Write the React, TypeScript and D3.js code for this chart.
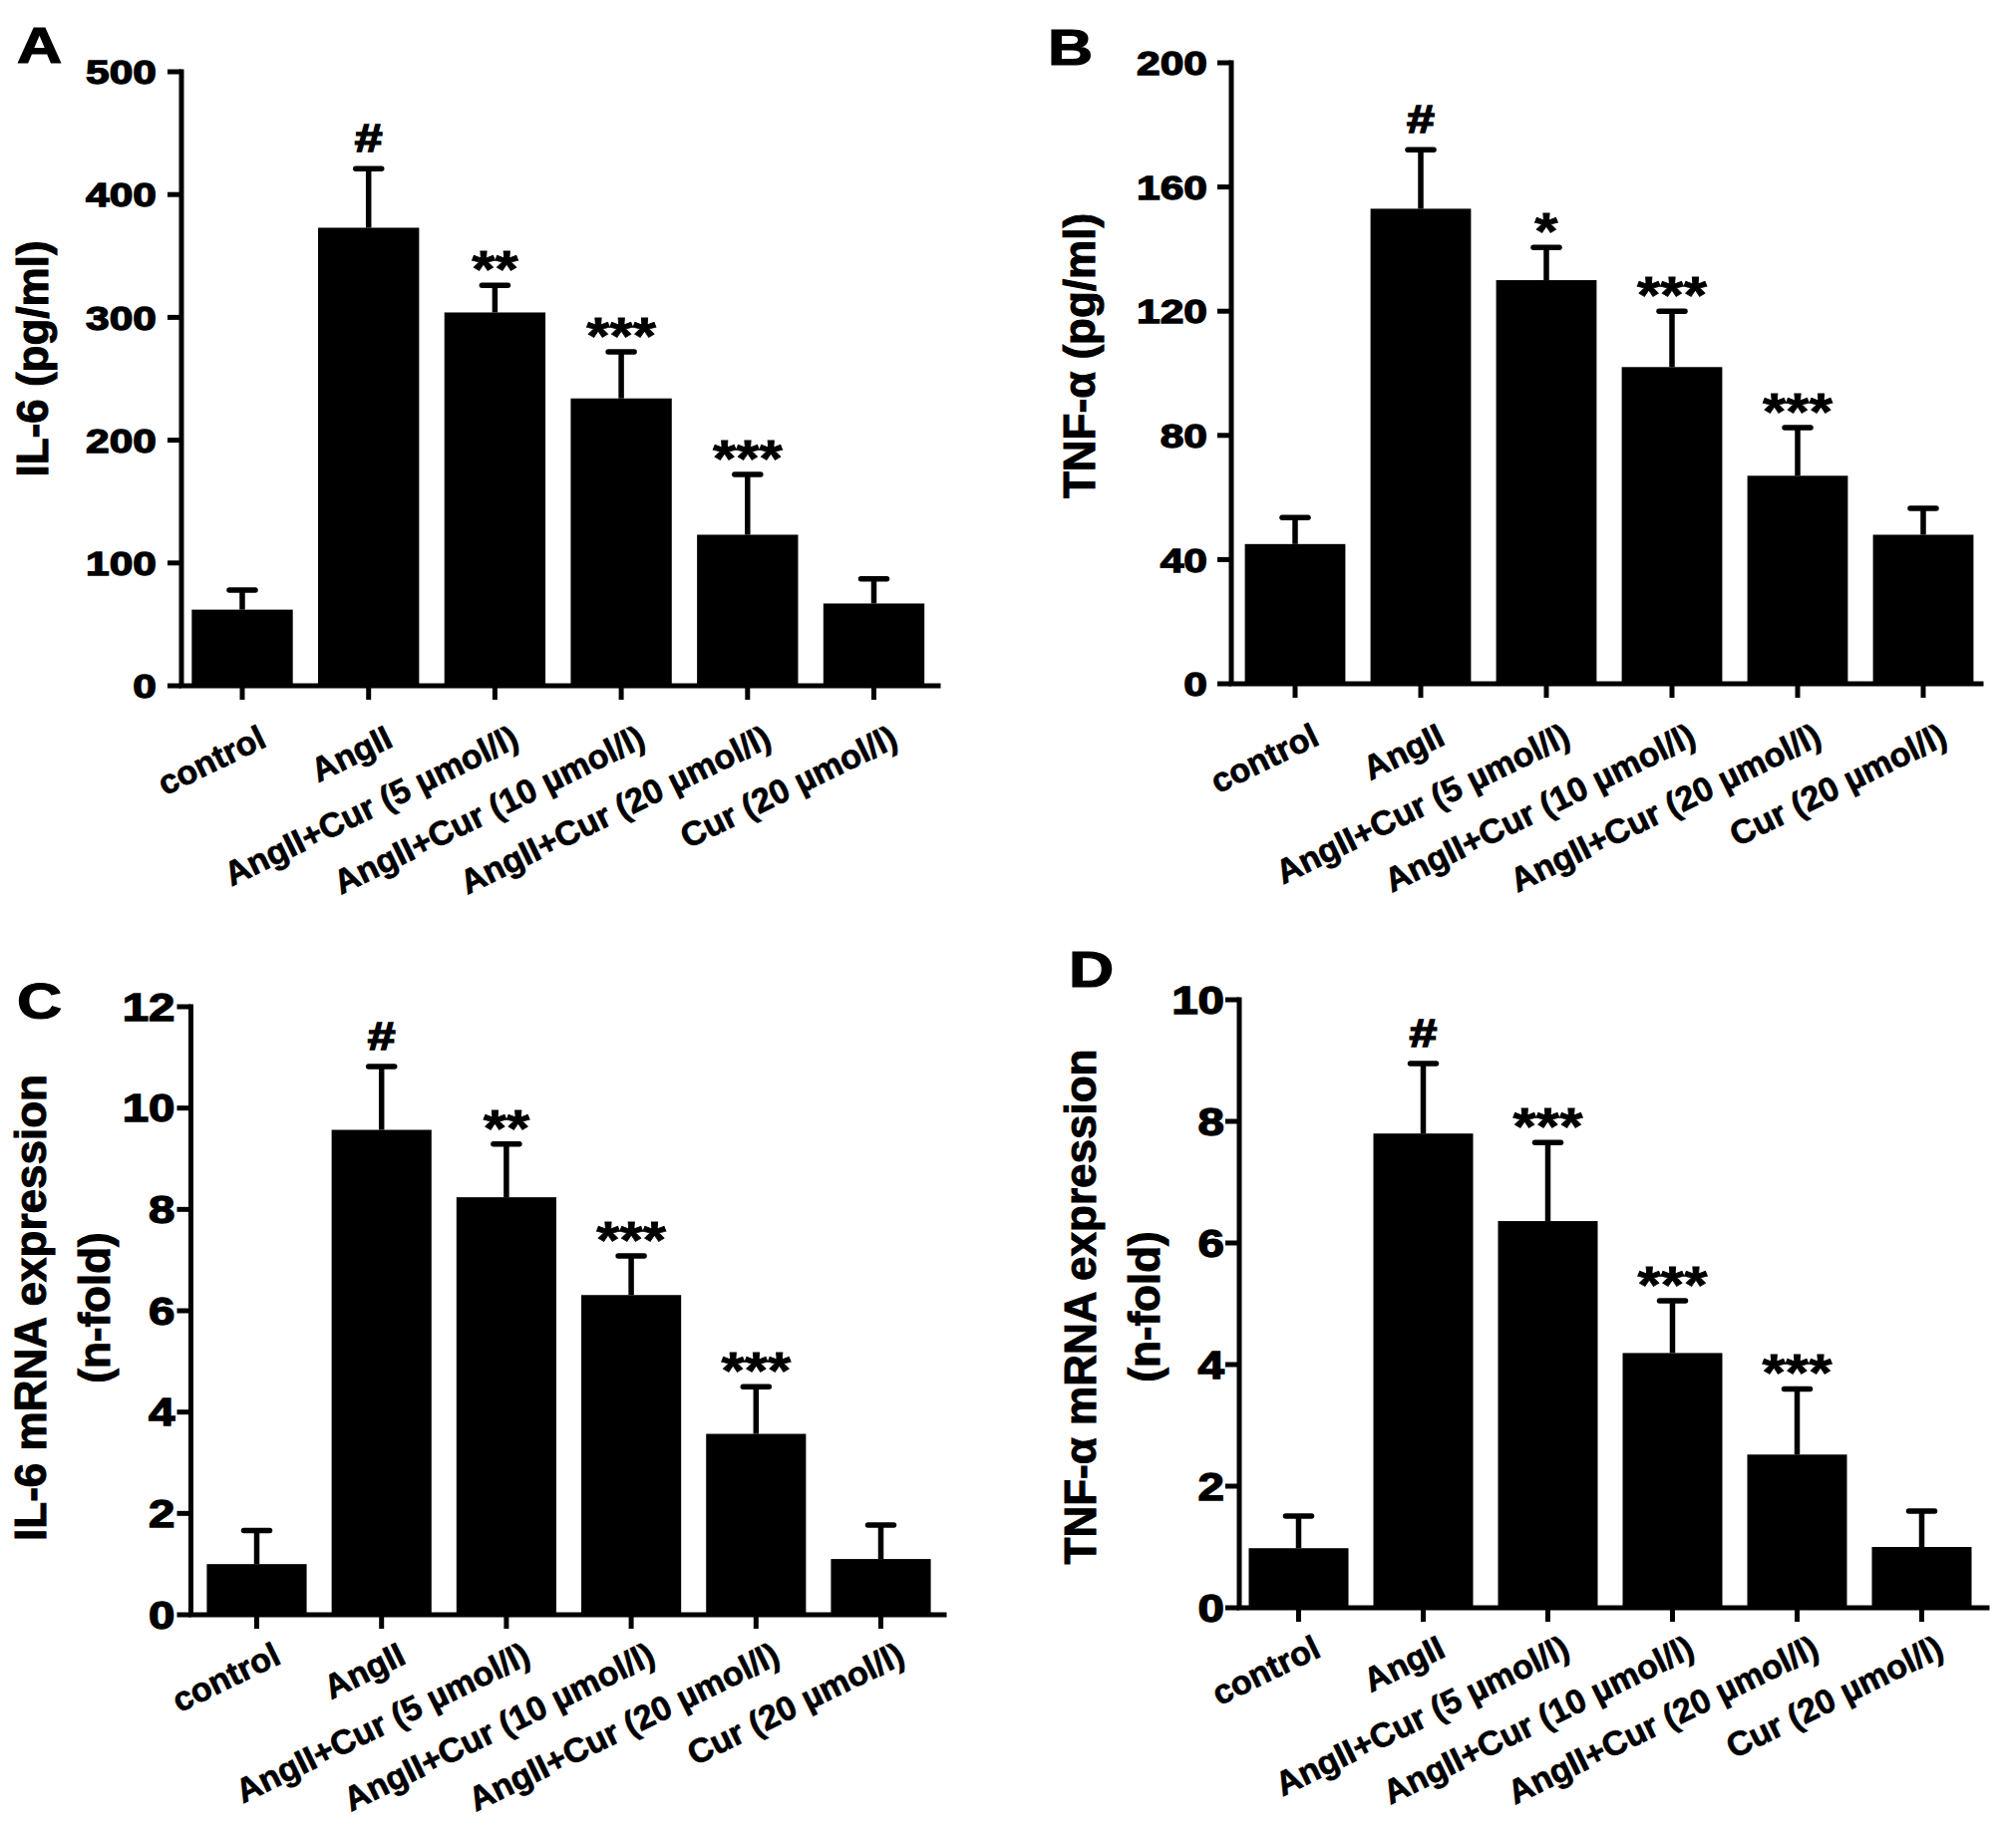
import React from 'react';
import * as d3 from 'd3';

// ---------- data ----------
const categories = [
  'control',
  'AngII',
  'AngII+Cur (5 µmol/l)',
  'AngII+Cur (10 µmol/l)',
  'AngII+Cur (20 µmol/l)',
  'Cur (20 µmol/l)',
];

const il6Protein = [62, 373, 304, 234, 123, 67];
const il6ProteinErr = [16, 48, 22, 38, 49, 20];
const il6ProteinSig = ['', '#', '**', '***', '***', ''];
const il6ProteinTicks = [0, 100, 200, 300, 400, 500];

const tnfProtein = [45, 153, 130, 102, 67, 48];
const tnfProteinErr = [8.5, 19, 10.5, 18, 15.5, 8.5];
const tnfProteinSig = ['', '#', '*', '***', '***', ''];
const tnfProteinTicks = [0, 40, 80, 120, 160, 200];

const il6Mrna = [1.0, 9.57, 8.24, 6.31, 3.57, 1.1];
const il6MrnaErr = [0.66, 1.25, 1.05, 0.77, 0.93, 0.67];
const il6MrnaSig = ['', '#', '**', '***', '***', ''];
const il6MrnaTicks = [0, 2, 4, 6, 8, 10, 12];

const tnfMrna = [0.98, 7.8, 6.36, 4.19, 2.52, 1.0];
const tnfMrnaErr = [0.53, 1.15, 1.29, 0.86, 1.08, 0.59];
const tnfMrnaSig = ['', '#', '***', '***', '***', ''];
const tnfMrnaTicks = [0, 2, 4, 6, 8, 10];

const FONT = '"Liberation Sans", Arial, Helvetica, sans-serif';

type PanelProps = {
  letter: string;
  letterX: number;
  letterY: number;
  axisX: number;
  yTop: number;
  yBottom: number;
  c0: number;
  step: number;
  xEnd: number;
  values: number[];
  errs: number[];
  sigs: string[];
  ticks: number[];
  tickFont: number;
  tickGap: number;
  yLabel: string[];
  yLabelX: number[];
  yLabelCy: number;
  catDx: number;
  catDy: number;
  sigFont: number;
};

function Panel(p: PanelProps) {
  const yMax = p.ticks[p.ticks.length - 1];
  const y = d3.scaleLinear().domain([0, yMax]).range([p.yBottom, p.yTop]);
  const x = d3
    .scaleBand<string>()
    .domain(categories)
    .range([p.c0 - p.step / 2, p.c0 + 5.5 * p.step])
    .paddingInner(0.2)
    .paddingOuter(0.1);
  const bw = x.bandwidth();
  const k = 1.25;
  return (
    <g>
      {/* panel letter */}
      <text
        transform={`translate(${p.letterX},${p.letterY}) scale(${k},1)`}
        fontFamily={FONT}
        fontWeight="bold"
        fontSize={50}
        fill="#000"
        stroke="#000"
        strokeWidth={1.2}
      >
        {p.letter}
      </text>
      {/* bars */}
      {categories.map((c, i) => (
        <rect
          key={'b' + i}
          x={x(c)}
          y={y(p.values[i])}
          width={bw}
          height={p.yBottom - y(p.values[i])}
          fill="#000"
        />
      ))}
      {/* error bars */}
      {categories.map((c, i) => {
        const cx = (x(c) as number) + bw / 2;
        const top = y(p.values[i] + p.errs[i]);
        return (
          <g key={'e' + i} stroke="#000" strokeWidth={5.5}>
            <line x1={cx} x2={cx} y1={y(p.values[i])} y2={top} />
            <line x1={cx - 13} x2={cx + 13} y1={top} y2={top} strokeLinecap="round" />
          </g>
        );
      })}
      {/* significance marks */}
      {categories.map((c, i) => {
        const s = p.sigs[i];
        if (!s) return null;
        const cx = (x(c) as number) + bw / 2;
        const top = y(p.values[i] + p.errs[i]);
        const isHash = s === '#';
        const fs = isHash ? p.sigFont * 0.74 : p.sigFont;
        const by = isHash ? top - 17 : top + 2;
        return (
          <text
            key={'s' + i}
            transform={`translate(${cx},${by}) scale(${isHash ? 1.3 : 1.15},1)`}
            textAnchor="middle"
            fontFamily={FONT}
            fontWeight="bold"
            fontSize={fs}
            fill="#000"
            stroke="#000"
            strokeWidth={isHash ? 1.4 : 0.8}
          >
            {s}
          </text>
        );
      })}
      {/* axes */}
      <path
        d={`M${p.axisX},${p.yTop}L${p.axisX},${p.yBottom}L${p.xEnd},${p.yBottom}`}
        fill="none"
        stroke="#000"
        strokeWidth={5}
        strokeLinecap="square"
        strokeLinejoin="miter"
      />
      {p.ticks.map((t) => (
        <g key={'yt' + t}>
          <line
            x1={p.axisX - 14}
            x2={p.axisX}
            y1={y(t)}
            y2={y(t)}
            stroke="#000"
            strokeWidth={5}
          />
          <text
            transform={`translate(${p.axisX - p.tickGap},${y(t)}) scale(${k},1)`}
            textAnchor="end"
            dy="0.36em"
            fontFamily={FONT}
            fontWeight="bold"
            fontSize={p.tickFont}
            fill="#000"
            stroke="#000"
            strokeWidth={1.3}
          >
            {t}
          </text>
        </g>
      ))}
      {categories.map((c, i) => {
        const cx = (x(c) as number) + bw / 2;
        return (
          <g key={'xt' + i}>
            <line x1={cx} x2={cx} y1={p.yBottom} y2={p.yBottom + 14} stroke="#000" strokeWidth={5} />
            <text
              transform={`translate(${cx + p.catDx},${p.yBottom + p.catDy}) rotate(-26)`}
              textAnchor="end"
              fontFamily={FONT}
              fontWeight="bold"
              fontSize={34}
              fill="#000"
              stroke="#000"
              strokeWidth={0.7}
            >
              {c}
            </text>
          </g>
        );
      })}
      {/* y label */}
      {p.yLabel.map((l, i) => (
        <text
          key={'yl' + i}
          transform={`translate(${p.yLabelX[i]},${p.yLabelCy}) rotate(-90)`}
          textAnchor="middle"
          fontFamily={FONT}
          fontWeight="bold"
          fontSize={44}
          fill="#000"
          stroke="#000"
          strokeWidth={1}
        >
          {l}
        </text>
      ))}
    </g>
  );
}

export default function App() {
  return (
    <svg
      width={2008}
      height={1854}
      viewBox="0 0 2008 1854"
      style={{ position: 'absolute', left: 0, top: 0, background: '#fff' }}
    >
      <rect x={0} y={0} width={2008} height={1854} fill="#fff" />
      <Panel
        letter="A"
        letterX={17}
        letterY={63}
        axisX={182}
        yTop={72}
        yBottom={688}
        c0={243}
        step={126.7}
        xEnd={941}
        values={il6Protein}
        errs={il6ProteinErr}
        sigs={il6ProteinSig}
        ticks={il6ProteinTicks}
        tickFont={34}
        tickGap={25}
        yLabel={['IL-6 (pg/ml)']}
        yLabelX={[47.5]}
        yLabelCy={360}
        catDx={26}
        catDy={60}
        sigFont={52}
      />
      <Panel
        letter="B"
        letterX={1051}
        letterY={65}
        axisX={1235}
        yTop={63}
        yBottom={686}
        c0={1299}
        step={126}
        xEnd={1987}
        values={tnfProtein}
        errs={tnfProteinErr}
        sigs={tnfProteinSig}
        ticks={tnfProteinTicks}
        tickFont={34}
        tickGap={24}
        yLabel={['TNF-α (pg/ml)']}
        yLabelX={[1097.5]}
        yLabelCy={357}
        catDx={26}
        catDy={60}
        sigFont={52}
      />
      <Panel
        letter="C"
        letterX={17}
        letterY={1022}
        axisX={191.5}
        yTop={1010}
        yBottom={1620}
        c0={257.5}
        step={125.2}
        xEnd={947}
        values={il6Mrna}
        errs={il6MrnaErr}
        sigs={il6MrnaSig}
        ticks={il6MrnaTicks}
        tickFont={38}
        tickGap={16}
        yLabel={['IL-6 mRNA expression', '(n-fold)']}
        yLabelX={[46, 110]}
        yLabelCy={1312}
        catDx={26}
        catDy={48}
        sigFont={52}
      />
      <Panel
        letter="D"
        letterX={1072}
        letterY={990}
        axisX={1243}
        yTop={1003}
        yBottom={1613}
        c0={1302.5}
        step={125}
        xEnd={1993}
        values={tnfMrna}
        errs={tnfMrnaErr}
        sigs={tnfMrnaSig}
        ticks={tnfMrnaTicks}
        tickFont={38}
        tickGap={15}
        yLabel={['TNF-α mRNA expression', '(n-fold)']}
        yLabelX={[1099, 1163]}
        yLabelCy={1311}
        catDx={24}
        catDy={48}
        sigFont={52}
      />
    </svg>
  );
}
